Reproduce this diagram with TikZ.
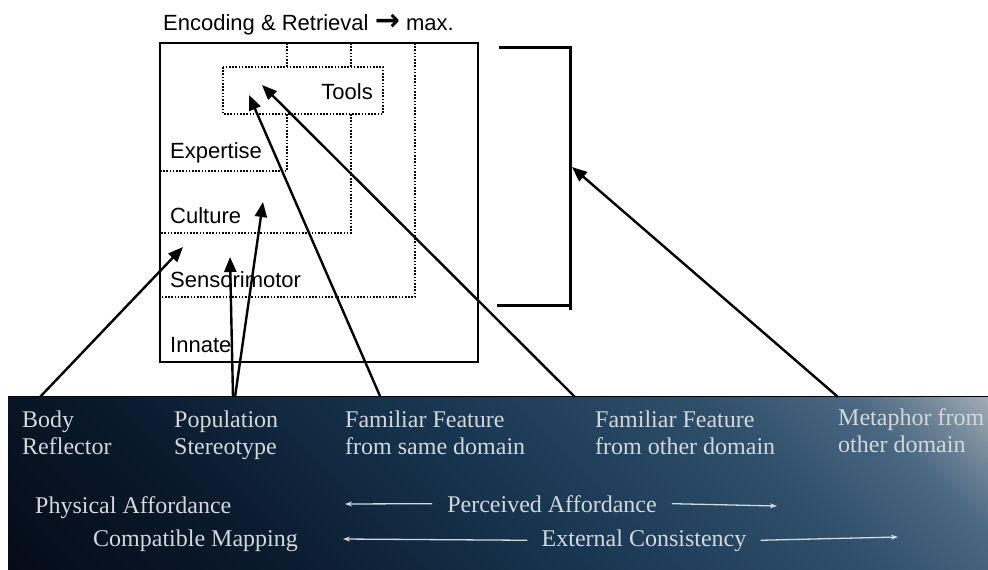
\documentclass[tikz,border=0pt]{standalone}
\usepackage{fontspec}
\setmainfont{Liberation Serif}
\newfontfamily\sansf{Liberation Sans}
\newfontfamily\symf{DejaVu Sans}
\usetikzlibrary{arrows.meta}
\definecolor{gA}{HTML}{040B17}
\definecolor{gB}{HTML}{0A192C}
\definecolor{gC}{HTML}{17344F}
\definecolor{gD}{HTML}{2F4F6B}
\definecolor{gE}{HTML}{4A6882}
\definecolor{gF}{HTML}{728799}
\definecolor{gG}{HTML}{AAB4BC}
\definecolor{txtlight}{HTML}{D2D8DB}
\begin{document}
\begin{tikzpicture}[x=1pt,y=-1pt,
  dotline/.style={line width=1.8pt,dash pattern=on 1.6pt off 1.6pt},
  sanslabel/.style={font=\sansf\fontsize{22}{26}\selectfont,inner sep=0pt},
  bandlabel/.style={font=\fontsize{24}{27}\selectfont,text=txtlight,inner sep=0pt,align=left,anchor=north west},
  bandtext/.style={font=\fontsize{24}{27}\selectfont,text=txtlight,inner ysep=0pt},
  bigarrow/.style={line width=2.4pt,-{Triangle[length=15pt,width=12pt]}},
  thinarrow/.style={draw=txtlight,line width=1.3pt,-{Stealth[length=7pt,width=5pt]}}
]
\useasboundingbox (0,0) rectangle (988,570);

% dark band with diagonal gradient
\begin{scope}
  \clip (8,396) rectangle (988,570);
  \foreach \ua/\ub/\ca/\cb in {-580/-300/gA/gB,-300/0/gB/gC,0/300/gC/gD,300/450/gD/gE,450/520/gE/gF,520/600/gF/gG}{
    \pgfmathtruncatemacro{\nn}{(\ub-\ua)/5}
    \foreach \kk in {0,...,\nn}{
      \pgfmathsetmacro{\uu}{\ua+5*\kk}
      \pgfmathtruncatemacro{\pp}{100-100*\kk/\nn}
      \fill[color=\ca!\pp!\cb] ({\uu+380},380) -- ({\uu+580},580) -- ({\uu+587},580) -- ({\uu+387},380) -- cycle;
    }
  }
\end{scope}
\draw[line width=1pt,black] (8,396) -- (988,396);

% main box
\draw[line width=2.2pt] (160,43) rectangle (478,362);

% dotted layers
\draw[dotline] (287,43) -- (287,67);
\draw[dotline] (287,114) -- (287,171) -- (160,171);
\draw[dotline] (351,43) -- (351,67);
\draw[dotline] (351,114) -- (351,233) -- (160,233);
\draw[dotline] (415,43) -- (415,297) -- (160,297);
\draw[dotline] (223,67) rectangle (383,114);

% box labels
\node[sanslabel,anchor=base west] (head) at (163,30) {Encoding \& Retrieval {\symf\bfseries\fontsize{30}{30}\selectfont →} max.};
\node[sanslabel,anchor=base east] (tools) at (373,99) {Tools};
\node[sanslabel,anchor=base west] (expertise) at (170,158) {Expertise};
\node[sanslabel,anchor=base west] (culture) at (170,223) {Culture};
\node[sanslabel,anchor=base west] (senso) at (170,287) {Sensorimotor};
\node[sanslabel,anchor=base west] (innate) at (170,352) {Innate};

% bracket
\draw[line width=3pt] (499,47) -- (570,47) -- (570,310);
\draw[line width=3pt] (497,305) -- (572,305);

% band labels
\node[bandlabel] (body) at (22,411) {Body\\Reflector};
\node[bandlabel] (pop) at (174,411) {Population\\Stereotype};
\node[bandlabel] (same) at (345,411) {Familiar Feature\\from same domain};
\node[bandlabel] (other) at (595,411) {Familiar Feature\\from other domain};
\node[bandlabel] (meta) at (838,408) {Metaphor from\\other domain};

\node[bandtext,anchor=base west,inner xsep=0pt] (phys) at (35,513) {Physical Affordance};
\node[bandtext,anchor=base west,inner xsep=0pt] (compat) at (93,546) {Compatible Mapping};
\node[bandtext,anchor=base,inner xsep=15pt] (perc) at (552,512) {Perceived Affordance};
\node[bandtext,anchor=base,inner xsep=14pt] (ext) at (644,546) {External Consistency};

% tips
\coordinate (tBody) at (183,247);
\coordinate (tPopA) at (230,257);
\coordinate (tPopB) at (263,202);
\coordinate (tSame) at (249,95);
\coordinate (tOther) at (262,85);
\coordinate (tMeta) at (572,167);
\coordinate (pL) at (345,504);
\coordinate (pR) at (777,506);
\coordinate (eL) at (343,539);
\coordinate (eR) at (898,537);

% black arrows
\draw[bigarrow] ([shift={(18,-14)}]body.north west) -- (tBody);
\draw[bigarrow] ([shift={(59,-14)}]pop.north west) -- (tPopA);
\draw[bigarrow] ([shift={(61,-14)}]pop.north west) -- (tPopB);
\draw[bigarrow] ([shift={(35,-15)}]same.north west) -- (tSame);
\draw[bigarrow] ([shift={(-20,-14)}]other.north west) -- (tOther);
\draw[bigarrow] ([shift={(0,-11)}]meta.north west) -- (tMeta);

% light arrows
\draw[thinarrow] (perc.west) -- (pL);
\draw[thinarrow] (perc.east) -- (pR);
\draw[thinarrow] (ext.west) -- (eL);
\draw[thinarrow] (ext.east) -- (eR);
\end{tikzpicture}
\end{document}
